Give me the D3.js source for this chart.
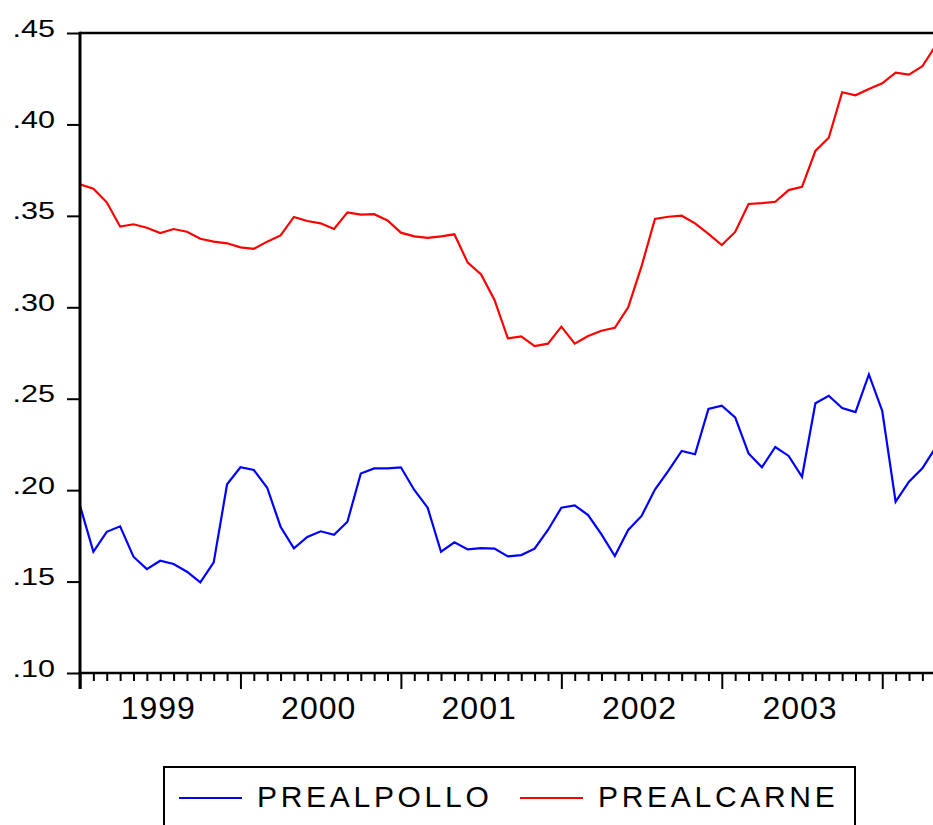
<!DOCTYPE html>
<html>
<head>
<meta charset="utf-8">
<script src="https://cdn.jsdelivr.net/npm/d3@7/dist/d3.min.js"></script>
<style>
  html, body { margin: 0; padding: 0; background: #fff; }
  svg { display: block; }
  text { font-family: "Liberation Sans", Arial, sans-serif; fill: #000; }
</style>
</head>
<body>
<svg id="chart" width="933" height="825"></svg>
<script>
// Monthly series, starting 1999M01
const years = ["1999", "2000", "2001", "2002", "2003"];
const yTicks = [0.10, 0.15, 0.20, 0.25, 0.30, 0.35, 0.40, 0.45];
const seriesNames = ["PREALPOLLO", "PREALCARNE"];

const prealpollo = [
  0.1915, 0.1663, 0.1772, 0.1802, 0.1636, 0.1568, 0.1614, 0.1596, 0.1554, 0.1496, 0.1605, 0.2032,
  0.2125, 0.2110, 0.2013, 0.1800, 0.1682, 0.1744, 0.1775, 0.1756, 0.1827, 0.2091, 0.2119, 0.2119,
  0.2125, 0.2001, 0.1904, 0.1663, 0.1715, 0.1676, 0.1683, 0.1680, 0.1638, 0.1645, 0.1680, 0.1782,
  0.1904, 0.1917, 0.1864, 0.1758, 0.1640, 0.1782, 0.1859, 0.2003, 0.2105, 0.2214, 0.2196, 0.2444,
  0.2462, 0.2398, 0.2201, 0.2125, 0.2236, 0.2187, 0.2073, 0.2475, 0.2516, 0.2449, 0.2427, 0.2633,
  0.2433, 0.1937, 0.2046, 0.2119, 0.2234
];
const prealcarne = [
  0.3673, 0.3648, 0.3574, 0.3441, 0.3454, 0.3435, 0.3406, 0.3428, 0.3413, 0.3375, 0.3359, 0.3350,
  0.3328, 0.3320, 0.3359, 0.3393, 0.3494, 0.3472, 0.3459, 0.3428, 0.3519, 0.3507, 0.3509, 0.3475,
  0.3408, 0.3388, 0.3380, 0.3388, 0.3399, 0.3244, 0.3180, 0.3040, 0.2830, 0.2841, 0.2788, 0.2801,
  0.2894, 0.2801, 0.2843, 0.2872, 0.2888, 0.3000, 0.3225, 0.3483, 0.3495, 0.3501, 0.3459, 0.3401,
  0.3340, 0.3412, 0.3565, 0.3570, 0.3577, 0.3641, 0.3659, 0.3855, 0.3927, 0.4176, 0.4159, 0.4194,
  0.4225, 0.4283, 0.4272, 0.4318, 0.4431
];
const colors = ["#0000ff", "#ff0000"];

const svg = d3.select("#chart");
const pLeft = 80, pTop = 33, pBottom = 673;
const monthW = 160.45 / 12;

const x = d3.scaleLinear().domain([0, 12]).range([pLeft, pLeft + 12 * monthW]);
const y = d3.scaleLinear().domain([0.10, 0.45]).range([pBottom, pTop]);

svg.append("defs").append("clipPath").attr("id", "clip")
  .append("rect").attr("x", pLeft).attr("y", pTop - 2).attr("width", 933 - pLeft).attr("height", pBottom - pTop + 4);

// Top border
svg.append("line").attr("x1", pLeft).attr("x2", 933).attr("y1", pTop).attr("y2", pTop)
  .attr("stroke", "#000").attr("stroke-width", 2.5);

// Lines
const line = d3.line().x((d, i) => x(i)).y(d => y(d));
const g = svg.append("g").attr("clip-path", "url(#clip)");
[prealpollo, prealcarne].forEach((s, k) => {
  g.append("path").datum(s).attr("d", line)
    .attr("fill", "none").attr("stroke", colors[k]).attr("stroke-width", 2.2)
    .attr("stroke-linejoin", "miter");
});

// Y axis
const yAxis = d3.axisLeft(y).tickValues(yTicks).tickSize(13).tickFormat(() => "");
const ya = svg.append("g").attr("transform", `translate(${pLeft},0)`).call(yAxis);
ya.select(".domain").remove();
ya.selectAll(".tick line").attr("stroke", "#000").attr("stroke-width", 2);
svg.append("line").attr("x1", pLeft).attr("x2", pLeft).attr("y1", pTop - 1.2).attr("y2", pBottom + 16)
  .attr("stroke", "#000").attr("stroke-width", 3);
yTicks.forEach(v => {
  svg.append("text").attr("x", 12.5).attr("y", y(v) + 3.5)
    .attr("font-size", 23.5)
    .attr("textLength", 42.5).attr("lengthAdjust", "spacingAndGlyphs")
    .text(d3.format(".2f")(v).replace(/^0/, ""));
});

// X axis with monthly ticks
const nMonths = 65;
const xAxis = d3.axisBottom(x).tickValues(d3.range(0, nMonths)).tickSize(8).tickFormat(() => "");
const xa = svg.append("g").attr("transform", `translate(0,${pBottom})`).call(xAxis);
xa.select(".domain").remove();
xa.selectAll(".tick line").attr("stroke", "#000").attr("stroke-width", 2)
  .attr("y2", d => (d % 12 === 0 ? 16 : 8));
svg.append("line").attr("x1", pLeft - 1.5).attr("x2", 933).attr("y1", pBottom).attr("y2", pBottom)
  .attr("stroke", "#000").attr("stroke-width", 2.7);

years.forEach((yr, k) => {
  svg.append("text").attr("x", x(k * 12 + 6) - 2).attr("y", 719)
    .attr("text-anchor", "middle").attr("font-size", 32).attr("letter-spacing", 1)
    .text(yr);
});

// Legend
svg.append("rect").attr("x", 164).attr("y", 767).attr("width", 691).attr("height", 80)
  .attr("fill", "none").attr("stroke", "#000").attr("stroke-width", 2);
const legendPos = [{lx: 179, tx: 257}, {lx: 520, tx: 598}];
seriesNames.forEach((n, k) => {
  svg.append("line").attr("x1", legendPos[k].lx).attr("x2", legendPos[k].lx + 63)
    .attr("y1", 798).attr("y2", 798).attr("stroke", colors[k]).attr("stroke-width", 2.2);
  svg.append("text").attr("x", legendPos[k].tx).attr("y", 807)
    .attr("font-size", 30).attr("letter-spacing", 3.7).text(n);
});
</script>
</body>
</html>
